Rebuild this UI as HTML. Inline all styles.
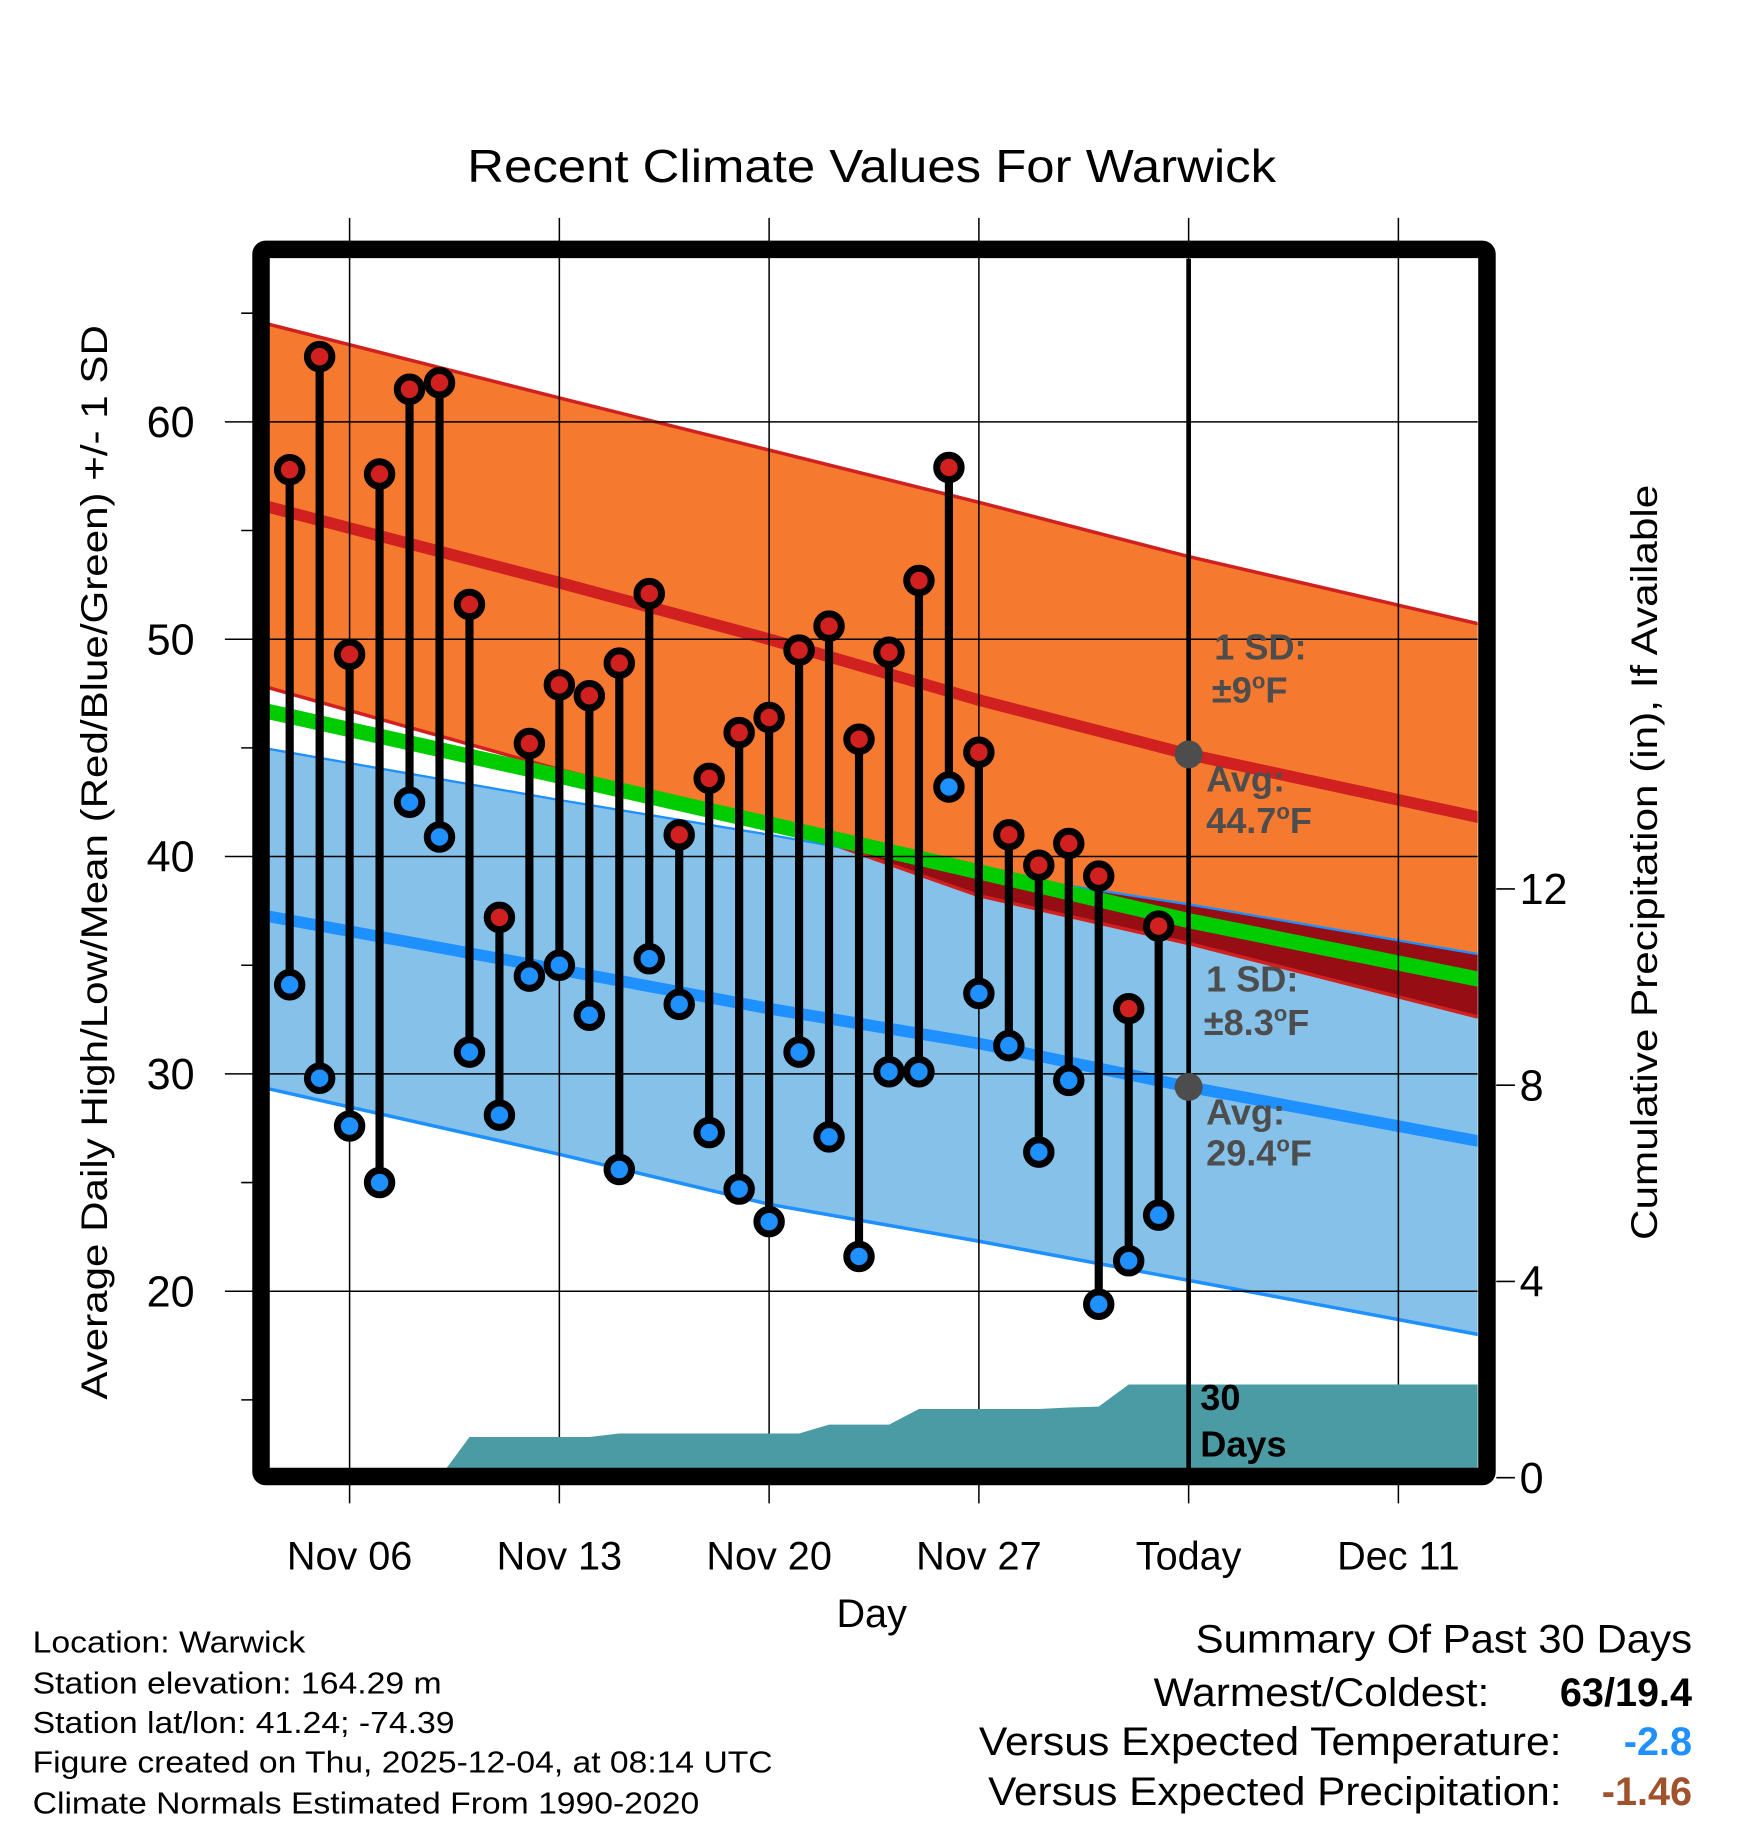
<!DOCTYPE html>
<html><head><meta charset="utf-8"><style>
html,body{margin:0;padding:0;background:#fff;width:1748px;height:1828px;overflow:hidden}
svg{display:block;font-family:"Liberation Sans",sans-serif}
</style></head><body>
<svg id="chart" width="1748" height="1828" viewBox="0 0 1500 1568.6" preserveAspectRatio="none" xmlns="http://www.w3.org/2000/svg">
<defs><clipPath id="plotclip"><rect x="231" y="222" width="1037" height="1038"/></clipPath>
<clipPath id="blueclip"><path id="blueclippath" d=""/></clipPath></defs>
<g id="bands" clip-path="url(#plotclip)"></g>
<g id="grid"></g>
<g id="precip" clip-path="url(#plotclip)"></g>
<g id="marks"></g>
<g id="annot"></g>
<g id="axes"></g>
<text x="748" y="156" font-size="40" text-anchor="middle" textLength="694" lengthAdjust="spacingAndGlyphs">Recent Climate Values For Warwick</text>
<text transform="translate(92,740) rotate(-90)" font-size="32" text-anchor="middle" textLength="922" lengthAdjust="spacingAndGlyphs">Average Daily High/Low/Mean (Red/Blue/Green) +/- 1 SD</text>
<text transform="translate(1422,740) rotate(-90)" font-size="32" text-anchor="middle" textLength="648" lengthAdjust="spacingAndGlyphs">Cumulative Precipitation (in), If Available</text>
<text x="748" y="1396" font-size="34" text-anchor="middle">Day</text>
<g font-size="26">
<text x="28" y="1418" textLength="234" lengthAdjust="spacingAndGlyphs">Location: Warwick</text>
<text x="28" y="1453" textLength="351" lengthAdjust="spacingAndGlyphs">Station elevation: 164.29 m</text>
<text x="28" y="1487" textLength="362" lengthAdjust="spacingAndGlyphs">Station lat/lon: 41.24; -74.39</text>
<text x="28" y="1521" textLength="635" lengthAdjust="spacingAndGlyphs">Figure created on Thu, 2025-12-04, at 08:14 UTC</text>
<text x="28" y="1556" textLength="572" lengthAdjust="spacingAndGlyphs">Climate Normals Estimated From 1990-2020</text>
</g>
<g font-size="34">
<text x="1452" y="1418" text-anchor="end" textLength="426" lengthAdjust="spacingAndGlyphs">Summary Of Past 30 Days</text>
<text x="1278" y="1464" text-anchor="end" textLength="288" lengthAdjust="spacingAndGlyphs">Warmest/Coldest:</text>
<text x="1452" y="1464" text-anchor="end" font-weight="bold">63/19.4</text>
<text x="1340" y="1506" text-anchor="end" textLength="500" lengthAdjust="spacingAndGlyphs">Versus Expected Temperature:</text>
<text x="1452" y="1506" text-anchor="end" font-weight="bold" fill="#1e90ff">-2.8</text>
<text x="1340" y="1549" text-anchor="end" textLength="492" lengthAdjust="spacingAndGlyphs">Versus Expected Precipitation:</text>
<text x="1452" y="1549" text-anchor="end" font-weight="bold" fill="#a0522d">-1.46</text>
</g>
</svg>
<script>
// Observed daily data, Nov 04 .. Dec 03 (day offsets relative to Nov 06)
const dayOffsets = [-2,-1,0,1,2,3,4,5,6,7,8,9,10,11,12,13,14,15,16,17,18,19,20,21,22,23,24,25,26,27];
const highs = [57.8,63,49.3,57.6,61.5,61.8,51.6,37.2,45.2,47.9,47.4,48.9,52.1,41,43.6,45.7,46.4,49.5,50.6,45.4,49.4,52.7,57.9,44.8,41,39.6,40.6,39.1,33,36.8];
const lows = [34.1,29.8,27.6,25,42.5,40.9,31,28.1,34.5,35,32.7,25.6,35.3,33.2,27.3,24.7,23.2,31,27.1,21.6,30.1,30.1,43.2,33.7,31.3,26.4,29.7,19.4,21.4,23.5];
// Normals (sampled days)
const normDays = [-3.3,7,14,21,28,37.7];
const avgHigh = [56.3,52.6,50,47.2,44.7,41.8];
const highUpper = [64.7,61.1,58.7,56.3,53.8,50.7];
const highLower = [48,44,41.6,38.2,36,32.6];
const avgLow = [37.4,34.8,33,31.4,29.4,26.9];
const lowUpper = [45.1,42.6,41,39.3,37.8,35.5];
const lowLower = [29.5,26.3,24,22.3,20.5,18];
// Cumulative precipitation
const precipDays = [3,4,5,6,7,8,9,10,11,12,13,14,15,16,17,18,19,20,21,22,23,24,25,26,27,38];
const precipVals = [0,0.83,0.83,0.83,0.83,0.83,0.9,0.9,0.9,0.9,0.9,0.9,0.9,1.08,1.08,1.08,1.4,1.4,1.4,1.4,1.4,1.43,1.45,1.9,1.9,1.9];
const xTickDays = [0,7,14,21,28,35];
const xTickLabels = ["Nov 06","Nov 13","Nov 20","Nov 27","Today","Dec 11"];
const yTicks = [20,30,40,50,60];
const yMinorTicks = [15,25,35,45,55,65];
const y2Ticks = [0,4,8,12];

const NS="http://www.w3.org/2000/svg";
const X = d => 300 + d*25.714;
const Y = t => 362 + (60-t)*18.65;
const Y2 = p => 1268 - p*42.1;
function mk(tag, attrs, parent){const e=document.createElementNS(NS,tag);for(const k in attrs)e.setAttribute(k,attrs[k]);parent.appendChild(e);return e;}
const gB=document.getElementById('bands'), gG=document.getElementById('grid'), gP=document.getElementById('precip'), gM=document.getElementById('marks'), gA=document.getElementById('axes'), gN=document.getElementById('annot');
const line = arr => normDays.map((d,i)=>(i?'L':'M')+X(d).toFixed(1)+' '+Y(arr[i]).toFixed(1)).join(' ');
const band = (up,lo) => line(up)+' '+normDays.slice().reverse().map((d,j)=>'L'+X(d).toFixed(1)+' '+Y(lo[normDays.length-1-j]).toFixed(1)).join(' ')+' Z';

let e;
e=mk('path',{d:band(highUpper,highLower),fill:'#f5792e'},gB);


e=mk('path',{d:band(lowUpper,lowLower),fill:'#85c1e9'},gB);


document.getElementById('blueclippath').setAttribute('d',band(lowUpper,lowLower));
e=mk('path',{d:band(highUpper,highLower),fill:'#960e14','clip-path':'url(#blueclip)'},gB);


const meanArr = avgHigh.map((v,i)=>(v+avgLow[i])/2);
[[avgHigh,'#d0201f',10,'avg-high-line'],[avgLow,'#1e90ff',10,'avg-low-line'],[highUpper,'#d0201f',3,'high-upper-line'],[highLower,'#d0201f',3,'high-lower-line'],[lowUpper,'#1e90ff',2,'low-upper-line'],[lowLower,'#1e90ff',3,'low-lower-line'],[meanArr,'#00cc00',13,'mean-line']].forEach(a=>{
  const p=mk('path',{d:line(a[0]),fill:'none',stroke:a[1],'stroke-width':a[2]},gB);
  
  
});
// grid
xTickDays.forEach(d=>{const l=mk('line',{x1:X(d),x2:X(d),y1:187,y2:1290,stroke:'#000','stroke-width':1.3},gG);
  
  });
yTicks.forEach(t=>{const l=mk('line',{x1:193,x2:1268,y1:Y(t),y2:Y(t),stroke:'#000','stroke-width':1.3},gG);
  
  });
yMinorTicks.forEach(t=>{const l=mk('line',{x1:207,x2:231,y1:Y(t),y2:Y(t),stroke:'#000','stroke-width':1.3},gG);
  
  });
// precip
let pd='M'+X(precipDays[0])+' '+Y2(0);
precipDays.forEach((d,i)=>{pd+=' L'+X(d).toFixed(1)+' '+Y2(precipVals[i]).toFixed(1);});
pd+=' L'+X(precipDays[precipDays.length-1])+' '+Y2(0)+' Z';
e=mk('path',{d:pd,fill:'#4a9ba3'},gP);


// today line
e=mk('line',{x1:X(28),x2:X(28),y1:222,y2:1262,stroke:'#000','stroke-width':4},gM);


// stems and dots
dayOffsets.forEach((d,i)=>{
  const x=X(d);
  const s=mk('line',{x1:x,x2:x,y1:Y(highs[i]),y2:Y(lows[i]),stroke:'#000','stroke-width':7},gM);
  
  
});
dayOffsets.forEach((d,i)=>{
  const x=X(d);
  const h=mk('circle',{cx:x,cy:Y(highs[i]),r:10.5,fill:'#d0201f',stroke:'#000','stroke-width':6},gM);
  
  
  const l=mk('circle',{cx:x,cy:Y(lows[i]),r:10.5,fill:'#1e90ff',stroke:'#000','stroke-width':6},gM);
  
  
});
// annotations
[[avgHigh[4]],[avgLow[4]]].forEach(v=>{const c=mk('circle',{cx:X(28),cy:Y(v[0]),r:12,fill:'#4d4d4d'},gN);
  
  });
function ann(x,y,txt,sup,after,name){
  const t=mk('text',{x:x,y:y,'font-size':31,'font-weight':'bold',fill:'#4d4d4d'},gN);
  
  
  t.appendChild(document.createTextNode(txt));
  if(sup){const s=mk('tspan',{'font-size':19,dy:-12},t);s.textContent='o';const a=mk('tspan',{dy:12},t);a.textContent=after;}
}
ann(1042,566,'1 SD:',false,'','high-sd-label');
ann(1040,603,'±9',true,'F','high-sd-value');
ann(1035,679,'Avg:',false,'','high-avg-label');
ann(1035,715,'44.7',true,'F','high-avg-value');
ann(1035,851,'1 SD:',false,'','low-sd-label');
ann(1033,888,'±8.3',true,'F','low-sd-value');
ann(1035,965,'Avg:',false,'','low-avg-label');
ann(1035,1000,'29.4',true,'F','low-avg-value');
e=mk('text',{x:1030,y:1210,'font-size':31,'font-weight':'bold'},gN);e.textContent='30';


e=mk('text',{x:1030,y:1250,'font-size':31,'font-weight':'bold'},gN);e.textContent='Days';


// frame
e=mk('rect',{x:224,y:214,width:1052,height:1053,fill:'none',stroke:'#000','stroke-width':15,rx:4},gA);


// tick labels
yTicks.forEach(t=>{const l=mk('text',{x:167,y:Y(t)+13,'font-size':37,'text-anchor':'end'},gA);l.textContent=String(t);
  
  });
y2Ticks.forEach(p=>{const k=mk('line',{x1:1284,x2:1300,y1:Y2(p),y2:Y2(p),stroke:'#000','stroke-width':1.3},gA);
  
  
  const l=mk('text',{x:1304,y:Y2(p)+13,'font-size':37},gA);l.textContent=String(p);
  
  });
xTickDays.forEach((d,i)=>{const l=mk('text',{x:X(d),y:1347,'font-size':34,'text-anchor':'middle'},gA);l.textContent=xTickLabels[i];
  
  });
</script>
</body></html>
